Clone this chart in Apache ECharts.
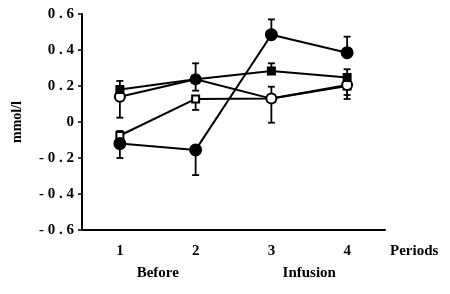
<!DOCTYPE html>
<html>
<head>
<meta charset="utf-8">
<script src="https://cdn.jsdelivr.net/npm/echarts@6/dist/echarts.min.js"></script>
<style>
  html, body { margin: 0; padding: 0; background: #fff; }
  #chart { width: 450px; height: 294px; }
</style>
</head>
<body>
<div id="chart"></div>
<script>
// data
const periods = ['1', '2', '3', '4'];
const phases = ['Before', 'Infusion'];
const yTicks = [-0.6, -0.4, -0.2, 0, 0.2, 0.4, 0.6];

const filledCircle = [-0.12, -0.155, 0.485, 0.385];
const filledSquare = [0.18, 0.237, 0.283, 0.247];
const openCircle = [0.14, 0.237, 0.13, 0.205];
const openSquare = [-0.075, 0.128, 0.13, 0.2];

// error bar tips (one-sided, as drawn), null = none visible
const filledCircleTip = [-0.2, -0.295, 0.57, 0.474];
const filledSquareTip = [0.228, 0.326, 0.326, 0.293];
const openCircleTip = [0.024, 0.174, -0.004, 0.128];
const openSquareTip = [-0.05, 0.067, 0.196, 0.15];

const font = '"Liberation Serif", "Times New Roman", serif';

function spaced(v) {
  if (Math.abs(v) < 1e-9) return '0';
  return v.toFixed(1).split('').join(' ');
}

function errData(means, tips) {
  return means.map((m, i) => [i, m, tips[i]]).filter(d => d[2] != null);
}

function errorBars(means, tips) {
  return {
    type: 'custom',
    z: 1,
    silent: true,
    renderItem: function (params, api) {
      const a = api.coord([api.value(0), api.value(1)]);
      const b = api.coord([api.value(0), api.value(2)]);
      const w = 3.5;
      return {
        type: 'group',
        children: [
          { type: 'line', shape: { x1: a[0], y1: a[1], x2: b[0], y2: b[1] }, style: { stroke: '#000', lineWidth: 1.8 } },
          { type: 'line', shape: { x1: b[0] - w, y1: b[1], x2: b[0] + w, y2: b[1] }, style: { stroke: '#000', lineWidth: 1.8 } }
        ]
      };
    },
    encode: { x: 0, y: 1 },
    data: errData(means, tips)
  };
}

function lineSeries(data, symbol, size, fill) {
  return {
    type: 'line',
    z: 3,
    data: data,
    symbol: symbol,
    symbolSize: size,
    showAllSymbol: true,
    lineStyle: { color: '#000', width: 2 },
    itemStyle: { color: fill, borderColor: '#000', borderWidth: 2 },
    emphasis: { disabled: true }
  };
}

const chart = echarts.init(document.getElementById('chart'));

const option = {
  animation: false,
  backgroundColor: '#fff',
  grid: { left: 82, top: 14, right: 65, bottom: 64 },
  xAxis: [
    {
      type: 'category',
      data: periods,
      boundaryGap: true,
      name: 'Periods',
      nameLocation: 'end',
      nameGap: 5,
      nameTextStyle: { fontFamily: font, fontWeight: 'bold', fontSize: 15, color: '#000', verticalAlign: 'top', padding: [14, 0, 0, 0] },
      axisLine: { onZero: false, lineStyle: { color: '#000', width: 2 } },
      axisTick: { alignWithLabel: true, length: 4, lineStyle: { color: '#000', width: 1.5 } },
      axisLabel: { fontFamily: font, fontWeight: 'bold', fontSize: 15, color: '#000', margin: 14 },
      splitLine: { show: false }
    },
    {
      type: 'category',
      data: phases,
      position: 'bottom',
      offset: 36,
      axisLine: { show: false },
      axisTick: { show: false },
      axisLabel: { fontFamily: font, fontWeight: 'bold', fontSize: 15, color: '#000', margin: 0 },
      splitLine: { show: false }
    }
  ],
  yAxis: {
    type: 'value',
    min: yTicks[0],
    max: yTicks[yTicks.length - 1],
    interval: 0.2,
    name: 'mmol/l',
    nameLocation: 'middle',
    nameRotate: 90,
    nameGap: 58,
    nameTextStyle: { fontFamily: font, fontWeight: 'bold', fontSize: 14, color: '#000' },
    axisLine: { show: true, lineStyle: { color: '#000', width: 2 } },
    axisTick: { show: true, length: 4, lineStyle: { color: '#000', width: 1.5 } },
    axisLabel: {
      fontFamily: font, fontWeight: 'bold', fontSize: 15, color: '#000', margin: 8,
      formatter: spaced
    },
    splitLine: { show: false }
  },
  series: [
    errorBars(filledCircle, filledCircleTip),
    errorBars(filledSquare, filledSquareTip),
    errorBars(openCircle, openCircleTip),
    errorBars(openSquare, openSquareTip),
    lineSeries(openSquare, 'rect', 7, '#fff'),
    lineSeries(openCircle, 'circle', 10, '#fff'),
    lineSeries(filledSquare, 'rect', 7, '#000'),
    lineSeries(filledCircle, 'circle', 11, '#000')
  ]
};

option && chart.setOption(option);
</script>
</body>
</html>
